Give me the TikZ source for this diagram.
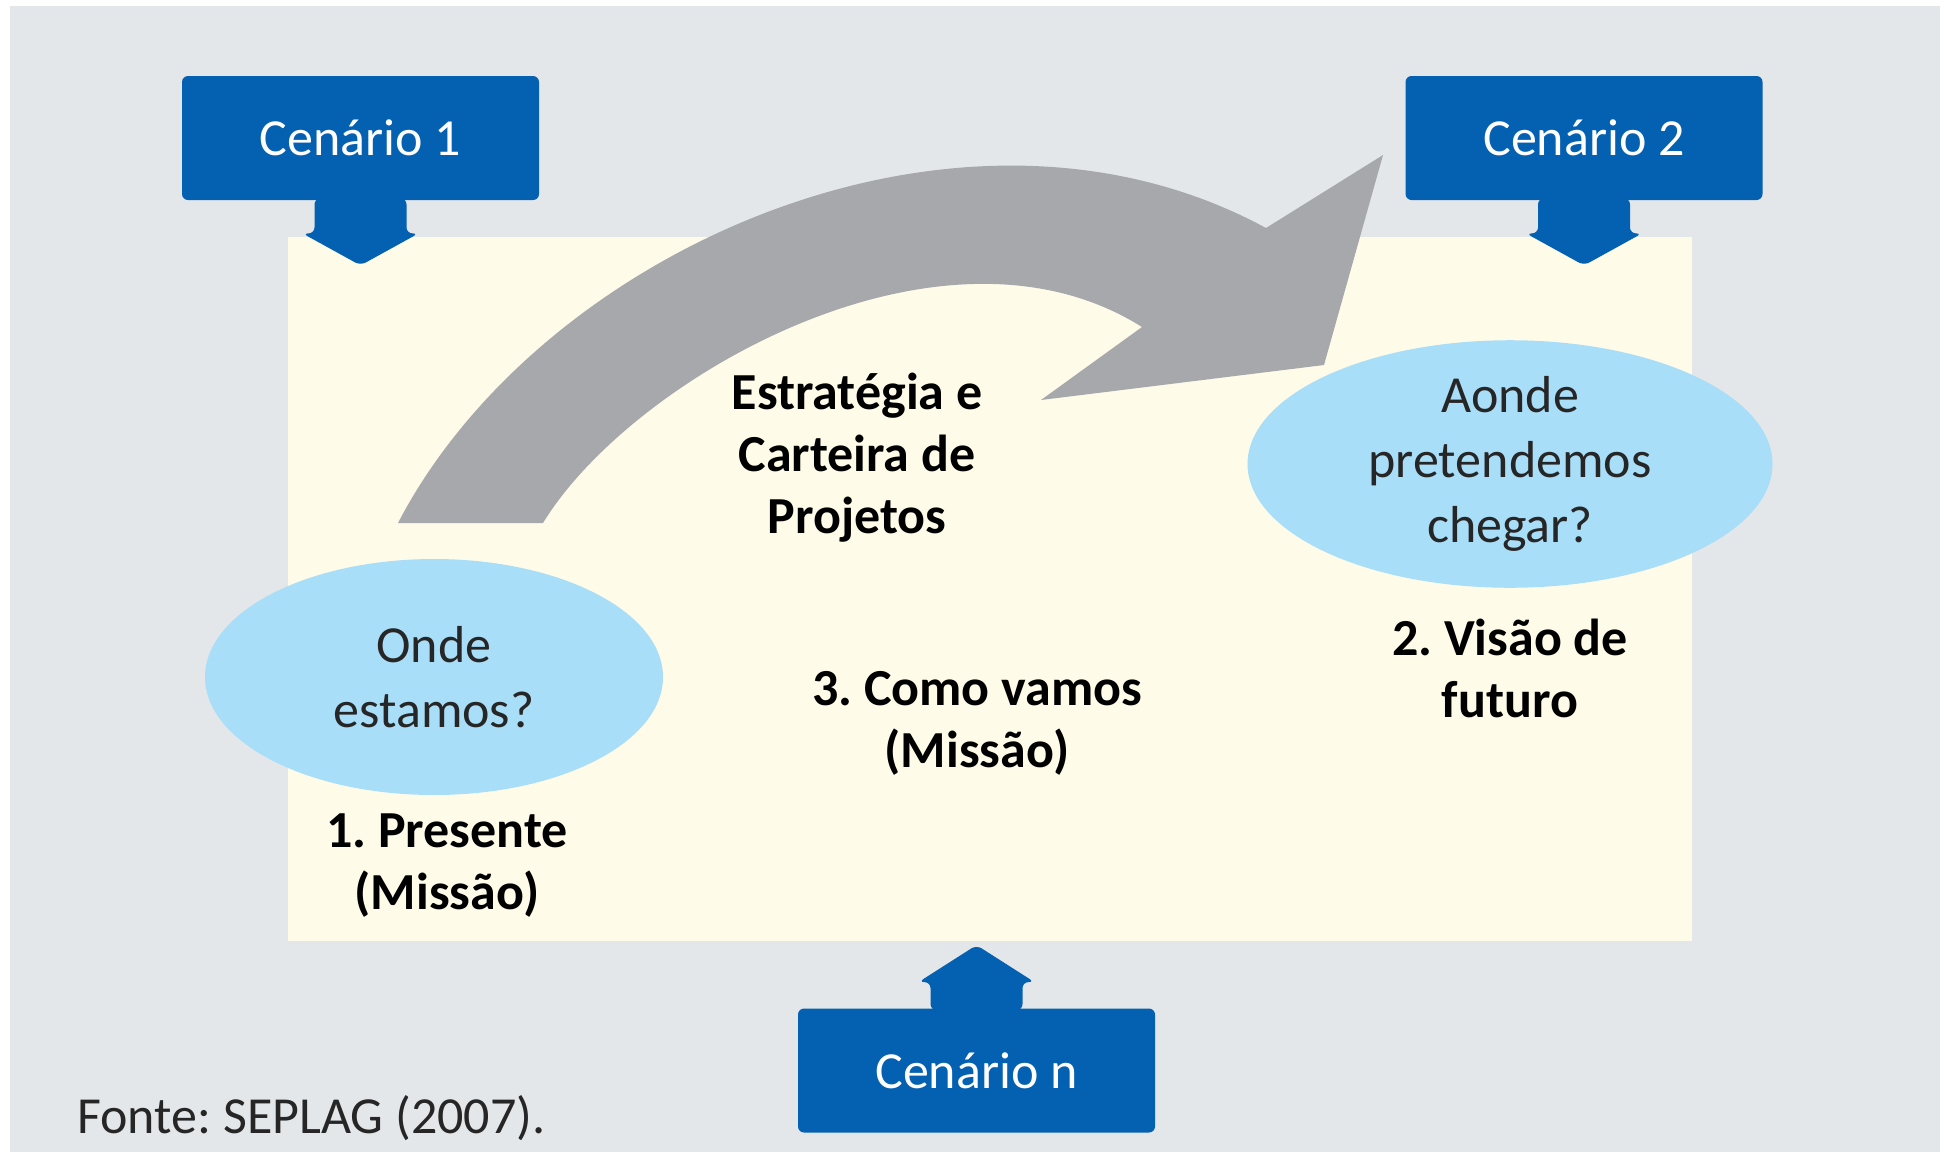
\documentclass[tikz,border=0pt]{standalone}
\usepackage{fontspec}
\setmainfont{Carlito}
\usepackage{tikz}
\usetikzlibrary{shapes.geometric}
\frenchspacing

\definecolor{fundo}{RGB}{228,231,234}
\definecolor{creme}{RGB}{255,251,233}
\definecolor{azul}{RGB}{4,96,176}
\definecolor{celeste}{RGB}{169,222,249}
\definecolor{cinza}{RGB}{166,168,171}

\begin{document}
\begin{tikzpicture}[x=0.5pt,y=-0.5pt,
    cenario/.style={fill=azul,text=white,rounded corners=3pt,minimum width=178.5pt,
                    minimum height=62pt,inner sep=0pt,font=\fontsize{26}{31}\selectfont},
    balao/.style={ellipse,fill=celeste,text=black!85,align=center,inner sep=0pt,
                  font=\fontsize{26}{32.5}\selectfont},
    rotulo/.style={align=center,inner sep=0pt,font=\fontsize{26}{31}\selectfont\bfseries}
    ]
            \useasboundingbox (0,0) rectangle (1947,1152);
            \fill[fundo] (10,6) rectangle (1940,1152);
            \fill[creme] (288,237) rectangle (1692,941);

            % Seta curva
            \fill[cinza] (398,523) .. controls (540,250) and (960,62) .. (1266,228)
                -- (1383,155) -- (1324,365) -- (1041,400) -- (1142,327)
                .. controls (940,200) and (630,380) .. (543,523) -- cycle;

            % Cenarios
            \node[cenario] (c1) at (360.5,138) {Cenário 1};
            \node[cenario] (c2) at (1584,138) {Cenário 2};
            \node[cenario] (cn) at (976.5,1070.5) {Cenário n};

            \fill[azul,rounded corners=3pt] (c1.south) ++(-46,-2) -- ++(0,35) -- ++(-12,0) -- ++(58,32)
                -- ++(58,-32) -- ++(-12,0) -- ++(0,-35) -- cycle;
            \fill[azul,rounded corners=3pt] (c2.south) ++(-46,-2) -- ++(0,35) -- ++(-12,0) -- ++(58,32)
                -- ++(58,-32) -- ++(-12,0) -- ++(0,-35) -- cycle;
            \fill[azul,rounded corners=3pt] (cn.north) ++(-46,2) -- ++(0,-28) -- ++(-12,0) -- ++(58,-37)
                -- ++(58,37) -- ++(-12,0) -- ++(0,28) -- cycle;

            % Baloes e rotulos
            \node[balao,minimum width=229pt,minimum height=118pt] (onde) at (434,677) {Onde\\estamos?};
            \node[balao,minimum width=262.5pt,minimum height=118pt] (aonde) at (1510,464) {Aonde\\pretendemos\\chegar?};

            \node[rotulo] (presente) at (447,866) {1. Presente\\(Missão)};
            \node[rotulo] (estrategia) at (857,458) {Estratégia e\\Carteira de\\Projetos};
            \node[rotulo] (como) at (977,723) {3. Como vamos\\(Missão)};
            \node[rotulo] (visao) at (1510,668) {2. Visão de\\futuro};

            \node[anchor=west,inner sep=0pt,text=black!85,font=\fontsize{26}{31}\selectfont] (fonte) at (77,1118) {Fonte: SEPLAG (2007).};
\end{tikzpicture}
\end{document}
